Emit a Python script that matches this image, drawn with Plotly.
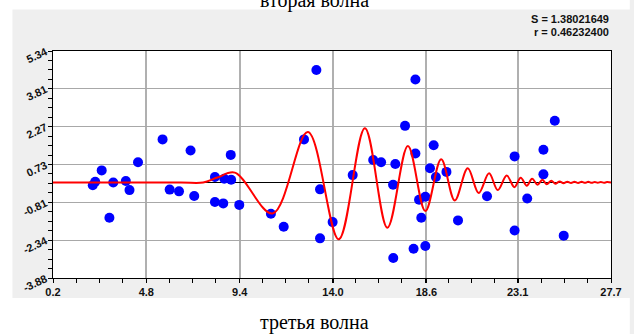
import plotly.graph_objects as go

# Observed points: третья волна (x) vs вторая волна (y)
x_pts = [2.16, 2.28, 2.60, 2.98, 3.17, 3.79, 3.97, 4.39, 5.60, 5.95,
         6.41, 6.98, 7.16, 8.18, 8.18, 8.59, 8.64, 8.98, 8.96, 9.38,
         10.94, 11.57, 12.57, 13.18, 13.36, 13.36, 13.98, 14.97, 15.98, 16.37,
         16.97, 16.96, 17.07, 17.55, 17.97, 18.06, 18.06, 18.24, 18.35, 18.55,
         18.55, 18.78, 18.96, 19.07, 19.59, 20.16, 21.59, 22.95, 22.95, 23.57,
         24.37, 24.37, 24.93, 25.37]
y_pts = [-0.11, 0.03, 0.49, -1.43, 0.00, 0.06, -0.31, 0.82, 1.75, -0.29,
         -0.36, 1.30, -0.55, 0.22, -0.79, -0.85, 0.15, 0.11, 1.12, -0.91,
         -1.27, -1.80, 1.75, 4.57, -0.28, -2.27, -1.61, 0.30, 0.91, 0.82,
         -3.07, -0.09, 0.75, 2.30, -2.69, 4.18, 1.18, -0.70, -1.43, -0.58,
         -2.58, 0.58, 1.51, 0.22, 0.43, -1.54, -0.56, 1.06, -1.95, -0.65,
         1.33, 0.33, 2.51, -2.16]

# Fitted curve, given at its turning points and smoothed by the spline
curve_x = [0.2, 6.5, 7.6, 8.3, 9.16, 11.02, 12.76, 14.28, 15.57, 16.68,
           17.69, 18.55, 19.33, 20.0, 20.64, 21.18, 21.69, 22.12, 22.56, 22.94,
           23.25, 23.55, 23.81, 24.08, 24.32, 24.53, 24.76, 24.95, 25.17, 25.36,
           25.55, 25.73, 25.9, 26.08, 26.25, 26.42, 26.58, 26.75, 26.9, 27.05,
           27.2, 27.35, 27.5, 27.7]
curve_y = [0.0, 0.0, 0.0, 0.2, 0.40, -1.26, 2.05, -2.31, 2.20, -1.84,
           1.48, -1.16, 0.94, -0.73, 0.58, -0.43, 0.37, -0.31, 0.28, -0.19,
           0.19, -0.13, 0.15, -0.09, 0.11, -0.07, 0.07, -0.05, 0.04, -0.03,
           0.03, -0.02, 0.03, -0.02, 0.025, -0.015, 0.025, -0.015, 0.02, -0.01,
           0.02, -0.01, 0.015, 0.0]

x_ticks = [0.2, 4.8, 9.4, 14.0, 18.6, 23.1, 27.7]
x_tick_text = ["0.2", "4.8", "9.4", "14.0", "18.6", "23.1", "27.7"]
y_ticks = [-3.88, -2.34, -0.81, 0.73, 2.27, 3.81, 5.34]
y_tick_text = ["-3.88", "-2.34", "-0.81", "0.73", "2.27", "3.81", "5.34"]

stat_lines = ["S = 1.38021649", "r = 0.46232400"]

X_RANGE = [x_ticks[0], x_ticks[-1]]
Y_RANGE = [y_ticks[0], y_ticks[-1]]

# figure geometry in pixels
W, H = 634, 334
ML, MR, MT, MB = 53, 17, 51, 56
PW, PH = W - ML - MR, H - MT - MB


def px_to_paper_x(px):
    return (px - ML) / PW


def px_to_paper_y(py):
    return (H - MB - py) / PH


fig = go.Figure()

fig.add_trace(go.Scatter(
    x=x_pts, y=y_pts, mode="markers",
    marker=dict(color="#0000ff", size=10, line=dict(width=0)),
    hoverinfo="skip", showlegend=False,
))

fig.add_trace(go.Scatter(
    x=curve_x, y=curve_y, mode="lines",
    line=dict(color="#ff0000", width=2, shape="spline", smoothing=1.0),
    hoverinfo="skip", showlegend=False,
))

tick_font = dict(family="Arial, Liberation Sans, sans-serif", size=11, color="#111111")

fig.update_xaxes(
    range=X_RANGE, tickmode="array", tickvals=x_ticks,
    ticktext=["<b>%s</b>" % t for t in x_tick_text],
    tickfont=tick_font, ticks="outside", ticklen=4, tickcolor="black", tickwidth=1,
    showgrid=True, gridcolor="#b0b0b0", gridwidth=1.5,
    showline=True, mirror=True, linecolor="black", linewidth=1,
    zeroline=False,
    minor=dict(tick0=X_RANGE[0], dtick=(X_RANGE[1] - X_RANGE[0]) / 24,
               ticks="outside", ticklen=4, tickcolor="black", showgrid=False),
)

fig.update_yaxes(
    range=Y_RANGE, tickmode="array", tickvals=y_ticks,
    ticktext=["<b>%s</b>" % t for t in y_tick_text],
    tickfont=tick_font, tickangle=-25, ticks="outside", ticklen=4,
    tickcolor="black", tickwidth=1,
    showgrid=True, gridcolor="#a8a8a8", gridwidth=1,
    showline=True, mirror=True, linecolor="black", linewidth=1,
    zeroline=True, zerolinecolor="black", zerolinewidth=1,
    minor=dict(tick0=Y_RANGE[0], dtick=(Y_RANGE[1] - Y_RANGE[0]) / 24,
               ticks="outside", ticklen=4, tickcolor="black", showgrid=False),
)

# grey chart panel: grey page with white strips left, above and below it
white_strips = [
    (-2, 12, -2, H + 2),        # left strip
    (-2, W + 2, -2, 9.5),       # top strip
    (-2, W + 2, 298, H + 2),    # bottom strip
]
for x0, x1, y0, y1 in white_strips:
    fig.add_shape(
        type="rect", xref="paper", yref="paper", layer="below",
        x0=px_to_paper_x(x0), x1=px_to_paper_x(x1),
        y0=px_to_paper_y(y1), y1=px_to_paper_y(y0),
        fillcolor="white", line=dict(width=0),
    )

serif = dict(family="Liberation Serif, Times New Roman, serif", size=20, color="black")
fig.add_annotation(text="вторая волна", xref="paper", yref="paper",
                   x=px_to_paper_x(317), y=px_to_paper_y(0), xanchor="center",
                   yanchor="middle", showarrow=False, font=serif)
fig.add_annotation(text="третья волна", xref="paper", yref="paper",
                   x=px_to_paper_x(317), y=px_to_paper_y(322), xanchor="center",
                   yanchor="middle", showarrow=False, font=serif)

stat_font = dict(family="Arial, Liberation Sans, sans-serif", size=11, color="#111111")
for i, line in enumerate(stat_lines):
    fig.add_annotation(text="<b>%s</b>" % line, xref="paper", yref="paper",
                       x=px_to_paper_x(617), y=px_to_paper_y(19.5 + 13 * i),
                       xanchor="right", yanchor="middle", showarrow=False,
                       font=stat_font)

fig.update_layout(
    width=W, height=H, autosize=False,
    margin=dict(l=ML, r=MR, t=MT, b=MB, pad=0),
    paper_bgcolor="#efefef", plot_bgcolor="white",
    font=dict(family="Arial, Liberation Sans, sans-serif"),
)

fig.write_html("out.html")
